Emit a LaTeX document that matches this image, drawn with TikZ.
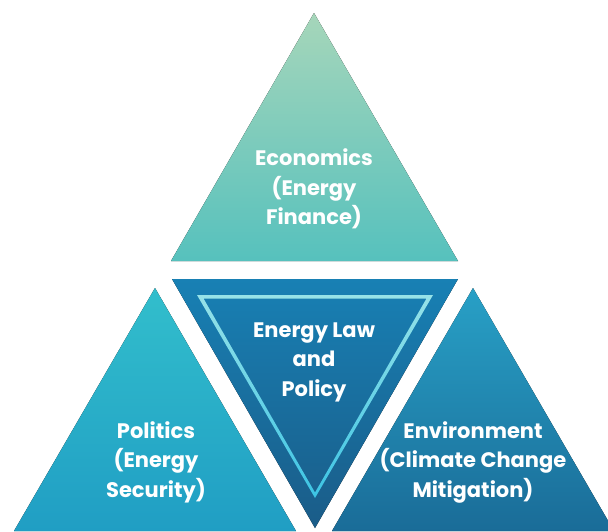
\documentclass[tikz,border=0pt]{standalone}
\usepackage{fontspec}
\setmainfont{Poppins}
\begin{document}
\begin{tikzpicture}[x=1pt,y=-1pt,
  lbl/.style={text=white,align=center,font=\fontsize{21}{29.5}\selectfont\bfseries,inner sep=0pt}]
\useasboundingbox (0,0) rectangle (608,531);
\begin{scope}
\clip (0,0) rectangle (608,531);
% top triangle
\fill[top color={rgb,255:red,166;green,214;blue,186},bottom color={rgb,255:red,86;green,193;blue,189}]
  (314,13) -- (458,261) -- (171,261) -- cycle;
% left triangle
\fill[top color={rgb,255:red,50;green,190;blue,204},bottom color={rgb,255:red,32;green,158;blue,196}]
  (155,288) -- (296,531) -- (14,531) -- cycle;
% right triangle
\fill[top color={rgb,255:red,40;green,160;blue,198},bottom color={rgb,255:red,26;green,108;blue,152}]
  (473,288) -- (614,531) -- (332,531) -- cycle;
% centre inverted triangle
\fill[top color={rgb,255:red,24;green,128;blue,180},bottom color={rgb,255:red,26;green,92;blue,136}]
  (172,279) -- (458,279) -- (315,528) -- cycle;
\shade[even odd rule,top color={rgb,255:red,150;green,226;blue,232},bottom color={rgb,255:red,60;green,196;blue,228}]
  (197,295) -- (433,295) -- (315,498) -- cycle
  (203.5,298.5) -- (426.5,298.5) -- (315,492.5) -- cycle;
\end{scope}
\node[lbl] (eco) at (314,189) {Economics\\(Energy\\Finance)};
\node[lbl] (law) at (314,362) {Energy Law\\and\\Policy};
\node[lbl] (pol) at (156,462) {Politics\\(Energy\\Security)};
\node[lbl] (env) at (473,462) {Environment\\(Climate Change\\Mitigation)};
\end{tikzpicture}
\end{document}
